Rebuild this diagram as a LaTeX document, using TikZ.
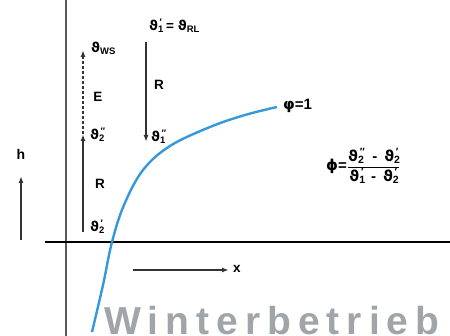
\documentclass[tikz,border=0pt]{standalone}
\usepackage{fontspec}
\setmainfont{Liberation Sans}
\newfontfamily\dv{DejaVu Sans}
\newcommand\tht{{\dv\bfseries ϑ}}
\newcommand\tk[2]{\tht\rlap{\textsubscript{#1}}\textsuperscript{\,#2}}
\newcommand\mns{\hspace{7pt}-\hspace{7pt}}
\definecolor{curveblue}{RGB}{52,152,219}
\definecolor{axisgray}{RGB}{90,90,90}
\definecolor{wmgray}{RGB}{160,165,170}
\usetikzlibrary{arrows.meta}
\tikzset{
  lbl/.style={inner sep=0pt, font=\fontsize{13.5}{15}\selectfont\bfseries},
  arr/.style={-{Latex[length=7pt,width=5pt]}, line width=1.5pt, black!80},
}
\begin{document}
\begin{tikzpicture}[x=1pt,y=-1pt]
\useasboundingbox (0,0) rectangle (450,336);
% watermark
\node[anchor=base west, inner sep=0pt, text=wmgray, font=\fontsize{39}{43}\selectfont\bfseries\addfontfeature{LetterSpace=18}] (wm) at (104,335) {Winterbetrieb};
% axes
\draw[axisgray, line width=2.2pt] (66,0) -- (66,336);
\draw[black, line width=1.5pt] (45,242) -- (450,242);
% h arrow
\coordinate (h0) at (21,240);
\coordinate (h1) at (21,176);
\draw[arr] (h0) -- (h1);
\node[lbl, font=\fontsize{14}{16}\selectfont\bfseries] (hl) at (21,154) {h};
% x arrow
\coordinate (x0) at (133,270);
\coordinate (x1) at (229,270);
\draw[arr] (x0) -- (x1);
\node[lbl, anchor=west] (xl) at (233,269) {x};
% curve
\draw[curveblue, line width=2.4pt] plot[smooth, tension=0.6] coordinates {(92,332) (103,285) (112,242) (124,205) (143,170) (170,146) (210,127) (245,115) (277,107)};
% left column
\coordinate (r0) at (83,232);
\coordinate (r1) at (83,134);
\coordinate (e1) at (83,50);
\draw[arr] (r0) -- (r1);
\draw[arr, dashed, dash pattern=on 3pt off 2pt] (r1) -- (e1);
\node[lbl, anchor=west] (tws) at (91,48) {\tht\textsubscript{WS}};
\node[lbl] (E) at (98,97) {E};
\node[lbl, anchor=west] (t2pp) at (90,135) {\tk{2}{′′}};
\node[lbl] (R1) at (100,184) {R};
\node[lbl, anchor=west] (t2p) at (90,227) {\tk{2}{′}};
% middle column
\coordinate (m0) at (146,42);
\coordinate (m1) at (146,142);
\draw[arr] (m0) -- (m1);
\node[lbl, anchor=west] (t1) at (149,26) {\tk{1}{′} = \tht\textsubscript{RL}};
\node[lbl] (R2) at (159,85) {R};
\node[lbl, anchor=west] (t1pp) at (151,137) {\tk{1}{′′}};
% labels right
\node[lbl, anchor=west, font=\fontsize{15}{17}\selectfont\bfseries] (phi1) at (283,106) {{\dv\bfseries φ}=1};
\node[lbl, anchor=west, font=\fontsize{15}{17}\selectfont\bfseries] (frac) at (326,166) {{\dv\bfseries ϕ}=$\displaystyle\frac{\hbox{\tk{2}{′′}\mns\tk{2}{′}}}{\hbox{\tk{1}{′}\mns\tk{2}{′}}}$};
\end{tikzpicture}
\end{document}
